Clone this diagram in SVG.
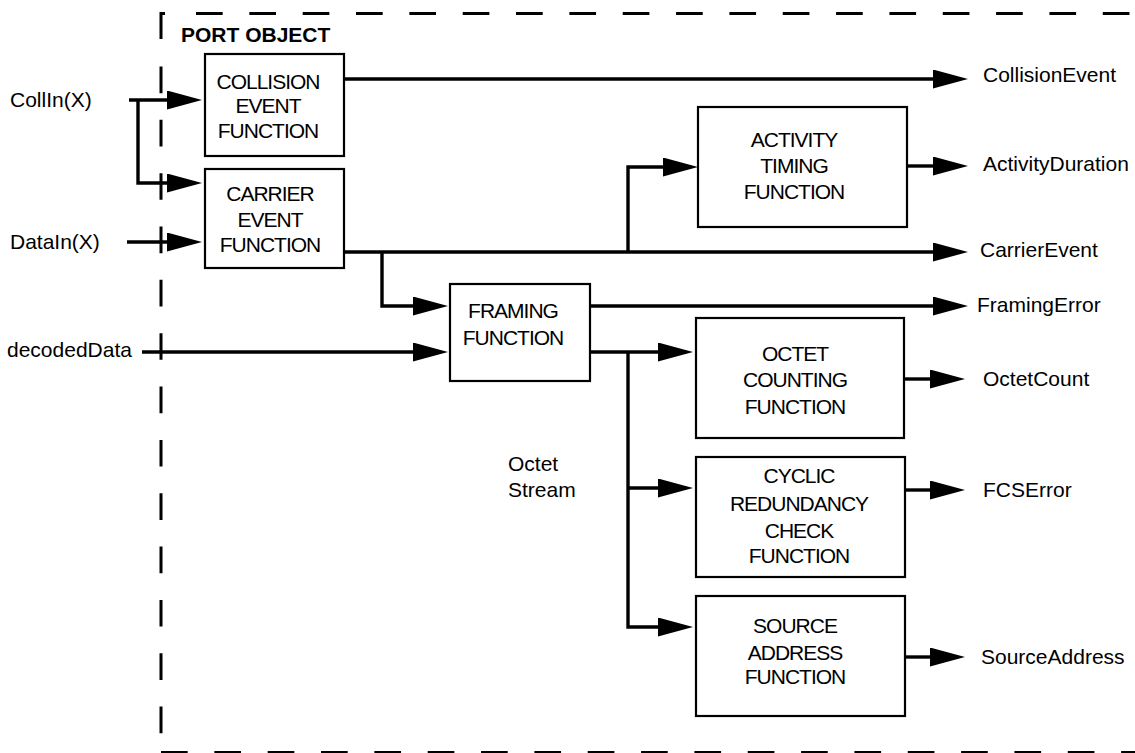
<svg xmlns="http://www.w3.org/2000/svg" width="1135" height="753" viewBox="0 0 1135 753">
<style>
text{font-family:"Liberation Sans",Arial,Helvetica,sans-serif;fill:#000;}
.lbl{font-size:21px;}
.bt{font-size:21px;letter-spacing:-1px;text-anchor:middle;}
.title{font-size:21px;font-weight:bold;}
.box{fill:#fff;stroke:#000;stroke-width:2.2;}
.con{fill:none;stroke:#000;stroke-width:3.4;}
.bord{fill:none;stroke:#000;stroke-width:3;stroke-dasharray:26.67 26.67;}
</style>
<defs>
<marker id="ah" markerUnits="userSpaceOnUse" markerWidth="36" markerHeight="20" refX="5" refY="9.5" orient="auto">
<path d="M0,0 L35,9.5 L0,19 z" fill="#000"/>
</marker>
</defs>
<rect width="1135" height="753" fill="#fff"/>
<g id="port-object-border">
<path d="M161,39 V13.5 H165" fill="none" stroke="#000" stroke-width="3"/>
<line class="bord" x1="196" y1="13.5" x2="1135" y2="13.5"/>
<line class="bord" x1="161" y1="66.5" x2="161" y2="760"/>
<line class="bord" x1="161" y1="752.5" x2="1135" y2="752.5"/>
<text class="title" x="181" y="42">PORT OBJECT</text>
</g>
<g id="connectors">
<path class="con" d="M129,100 H172" marker-end="url(#ah)"/>
<path class="con" d="M138,100 V183 H172" marker-end="url(#ah)"/>
<path class="con" d="M127,242 H172" marker-end="url(#ah)"/>
<path class="con" d="M344,79 H938" marker-end="url(#ah)"/>
<path class="con" d="M344,252 H938" marker-end="url(#ah)"/>
<path class="con" d="M628,252 V167 H668" marker-end="url(#ah)"/>
<path class="con" d="M907,166 H938" marker-end="url(#ah)"/>
<path class="con" d="M382,252 V306 H418" marker-end="url(#ah)"/>
<path class="con" d="M142,352 H418" marker-end="url(#ah)"/>
<path class="con" d="M590,306 H938" marker-end="url(#ah)"/>
<path class="con" d="M590,352 H663" marker-end="url(#ah)"/>
<path class="con" d="M628,352 V627 H663" marker-end="url(#ah)"/>
<path class="con" d="M628,488 H663" marker-end="url(#ah)"/>
<path class="con" d="M904,379 H935" marker-end="url(#ah)"/>
<path class="con" d="M905,490 H935" marker-end="url(#ah)"/>
<path class="con" d="M905,657 H935" marker-end="url(#ah)"/>
</g>
<g id="collision-event-function">
<rect class="box" x="205" y="54" width="139" height="102"/>
<text class="bt" x="268" y="89">COLLISION</text>
<text class="bt" x="268" y="113">EVENT</text>
<text class="bt" x="268" y="138">FUNCTION</text>
</g>
<g id="carrier-event-function">
<rect class="box" x="205" y="169" width="139" height="99"/>
<text class="bt" x="270" y="201">CARRIER</text>
<text class="bt" x="270" y="227">EVENT</text>
<text class="bt" x="270" y="252">FUNCTION</text>
</g>
<g id="activity-timing-function">
<rect class="box" x="698" y="107" width="209" height="120"/>
<text class="bt" x="794" y="147">ACTIVITY</text>
<text class="bt" x="794" y="173">TIMING</text>
<text class="bt" x="794" y="199">FUNCTION</text>
</g>
<g id="framing-function">
<rect class="box" x="450" y="284" width="140" height="97"/>
<text class="bt" x="513" y="318">FRAMING</text>
<text class="bt" x="513" y="345">FUNCTION</text>
</g>
<g id="octet-counting-function">
<rect class="box" x="696" y="318" width="208" height="120"/>
<text class="bt" x="795" y="361">OCTET</text>
<text class="bt" x="795" y="387">COUNTING</text>
<text class="bt" x="795" y="414">FUNCTION</text>
</g>
<g id="crc-function">
<rect class="box" x="696" y="457" width="209" height="120"/>
<text class="bt" x="799" y="483">CYCLIC</text>
<text class="bt" x="799" y="511">REDUNDANCY</text>
<text class="bt" x="799" y="538">CHECK</text>
<text class="bt" x="799" y="563">FUNCTION</text>
</g>
<g id="source-address-function">
<rect class="box" x="696" y="596" width="209" height="120"/>
<text class="bt" x="795" y="633">SOURCE</text>
<text class="bt" x="795" y="660">ADDRESS</text>
<text class="bt" x="795" y="684">FUNCTION</text>
</g>
<g id="labels">
<text class="lbl" x="10" y="107">CollIn(X)</text>
<text class="lbl" x="10" y="249">DataIn(X)</text>
<text class="lbl" x="7" y="357">decodedData</text>
<text class="lbl" x="983" y="82">CollisionEvent</text>
<text class="lbl" x="983" y="171">ActivityDuration</text>
<text class="lbl" x="980" y="257">CarrierEvent</text>
<text class="lbl" x="977" y="312">FramingError</text>
<text class="lbl" x="983" y="386">OctetCount</text>
<text class="lbl" x="983" y="497">FCSError</text>
<text class="lbl" x="981" y="664">SourceAddress</text>
<text class="lbl" x="508" y="471">Octet</text>
<text class="lbl" x="508" y="497">Stream</text>
</g>
</svg>
